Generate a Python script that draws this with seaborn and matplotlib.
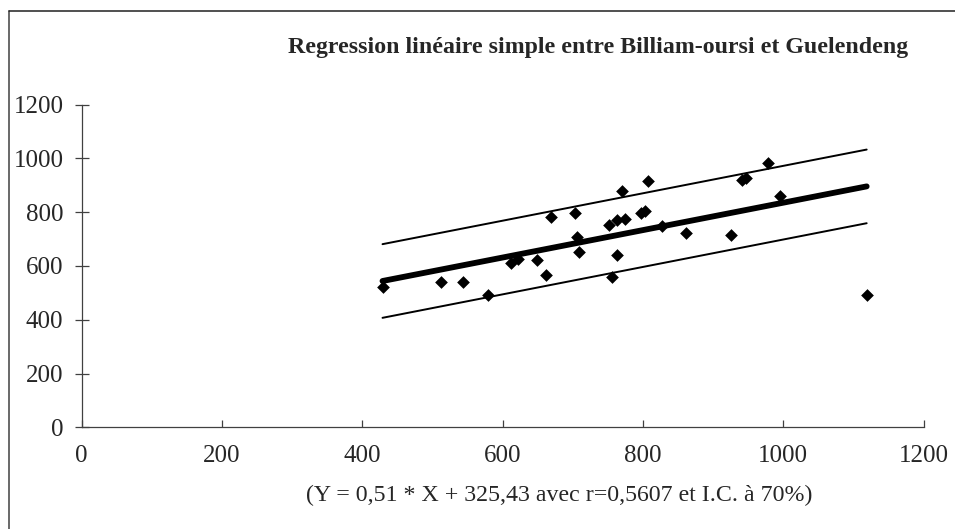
import numpy as np
import pandas as pd
import matplotlib
matplotlib.use("Agg")
import matplotlib.pyplot as plt
from matplotlib.lines import Line2D
import seaborn as sns

# ---- data ----
billiam = [429, 512, 543, 579, 612, 622, 649, 662, 669, 703, 706, 709, 752, 763, 774,
           770, 807, 797, 803, 763, 756, 828, 862, 925, 941, 947, 978, 996, 1119]
guelendeng = [523, 539, 539, 492, 612, 625, 622, 565, 781, 798, 709, 652, 754, 771, 775,
              880, 917, 798, 806, 640, 558, 750, 724, 715, 920, 929, 982, 861, 492]
slope = 0.51
intercept = 325.43
band_half_width = 137  # 70 % interval half-width

x_ticks = [0, 200, 400, 600, 800, 1000, 1200]
y_ticks = [0, 200, 400, 600, 800, 1000, 1200]
title = "Regression linéaire simple entre Billiam-oursi et Guelendeng"
xlabel = "(Y = 0,51 * X + 325,43 avec r=0,5607 et I.C. à 70%)"

df = pd.DataFrame({"x": billiam, "y": guelendeng})

sns.set_style("white")
plt.rcParams["font.family"] = ["Liberation Serif", "DejaVu Serif"]

W, H = 955, 529
fig = plt.figure(figsize=(W / 100, H / 100), dpi=100)
ax_w, ax_h = 842, 322.6
ax = fig.add_axes([81.5 / W, 1 - 427.3 / H, ax_w / W, ax_h / H])

# regression line and interval lines
xr = np.array([min(billiam), max(billiam)])
yr = slope * xr + intercept
line_df = pd.DataFrame({
    "x": np.concatenate([xr, xr, xr]),
    "y": np.concatenate([yr, yr + band_half_width, yr - band_half_width]),
    "kind": ["fit", "fit", "up", "up", "low", "low"],
})
sns.lineplot(data=line_df[line_df.kind == "fit"], x="x", y="y", ax=ax,
             color="black", linewidth=4.2, solid_capstyle="round")
for k in ["up", "low"]:
    sns.lineplot(data=line_df[line_df.kind == k], x="x", y="y", ax=ax,
                 color="black", linewidth=1.4)

sns.scatterplot(data=df, x="x", y="y", ax=ax, marker="D", color="black",
                s=42, linewidth=0, zorder=5)

ax.set_xlim(0, 1200)
ax.set_ylim(0, 1200)
ax.set_xticks(x_ticks)
ax.set_yticks(y_ticks)
ax.set_xticklabels([str(v) for v in x_ticks])
ax.set_yticklabels([str(v) for v in y_ticks])
ax.set_xlabel(xlabel, fontsize=17.2, va="center", ha="center")
ax.xaxis.set_label_coords((559.5 - 81.5) / ax_w, -(495 - 427.3) / ax_h)
ax.set_ylabel("")

for s in ["top", "right"]:
    ax.spines[s].set_visible(False)
for s in ["left", "bottom"]:
    ax.spines[s].set_color("#404040")
    ax.spines[s].set_linewidth(0.9)

ax.tick_params(axis="x", bottom=True, direction="in", length=5, width=0.9,
               color="#404040", labelsize=18, pad=13)
ax.tick_params(axis="y", left=True, direction="inout", length=10, width=0.9,
               color="#404040", labelsize=18, pad=8)
ax.patch.set_alpha(0)

fig.text(598.5 / W, 1 - 47 / H, title, ha="center", va="center",
         fontsize=17.2, fontweight="bold")

# outer chart frame (only left and top visible in the reference)
fig.add_artist(Line2D([9 / W, 9 / W], [0, 1 - 11 / H], transform=fig.transFigure,
                      color="#404040", linewidth=1.1))
fig.add_artist(Line2D([9 / W, 1], [1 - 11 / H, 1 - 11 / H], transform=fig.transFigure,
                      color="#202020", linewidth=1.1))

fig.savefig("out.png", dpi=100)
